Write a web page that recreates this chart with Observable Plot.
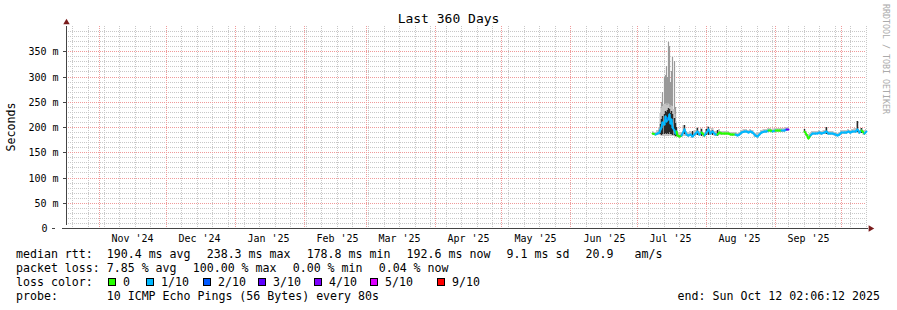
<!DOCTYPE html>
<html>
<head>
<meta charset="utf-8">
<script src="https://cdn.jsdelivr.net/npm/d3@7"></script>
<script src="https://cdn.jsdelivr.net/npm/@observablehq/plot@0.6"></script>
<style>
  body { margin: 0; background: #fff; }
  #wrap { position: relative; width: 897px; height: 310px; font-family: "DejaVu Sans Mono", monospace; color: #000; overflow: hidden; }
  #chart { position: absolute; left: 0; top: 0; }
  .t { position: absolute; white-space: pre; font-size: 11.6px; line-height: 14px; }
  .gap { display: inline-block; width: 16.2px; }
  .box { position: absolute; width: 6px; height: 6px; border: 1px solid #000; }
</style>
</head>
<body>
<div id="wrap">
  <div id="chart"></div>
  <div class="t" style="left:0;top:11px;width:897px;text-align:center;font-size:13px;line-height:16px">Last 360 Days</div>
  <div class="t" style="left:11px;top:127px;transform:translate(-50%,-50%) rotate(-90deg);">Seconds</div>
  <div class="t" style="left:886px;top:59px;transform:translate(-50%,-50%) rotate(90deg);font-size:8.3px;line-height:10px;color:#aaa">RRDTOOL / TOBI OETIKER</div>
  <div id="legend"></div>
</div>
<script>
// ---- time range ----
const rangeStart = "2024-10-17T02:06:12Z";
const rangeEnd   = "2025-10-12T02:06:12Z";

// ---- axis labels ----
const yLabelTicks = [50, 100, 150, 200, 250, 300, 350];
const monthLabels = ["Nov '24","Dec '24","Jan '25","Feb '25","Mar '25","Apr '25","May '25","Jun '25","Jul '25","Aug '25","Sep '25"];

// ---- loss colours ----
const lossLevels = [0, 1, 2, 3, 4, 5, 9];
const lossLabels = ["0", "1/10", "2/10", "3/10", "4/10", "5/10", "9/10"];
const lossColors = ["#26ff00", "#00b8ff", "#0059ff", "#5e00ff", "#7e00ff", "#dd00ff", "#ff0000"];

// ---- series ----
const dates = [
  "2025-07-08","2025-07-09","2025-07-10","2025-07-11","2025-07-11T12:00Z","2025-07-12","2025-07-12T12:00Z",
  "2025-07-13","2025-07-13T12:00Z","2025-07-14","2025-07-14T12:00Z","2025-07-15","2025-07-15T12:00Z",
  "2025-07-16","2025-07-16T12:00Z","2025-07-17","2025-07-17T12:00Z","2025-07-18","2025-07-18T12:00Z","2025-07-19",
  "2025-07-20","2025-07-21","2025-07-22","2025-07-23","2025-07-24","2025-07-25","2025-07-26","2025-07-27",
  "2025-07-28","2025-07-29","2025-07-30","2025-07-31",
  "2025-08-01","2025-08-02","2025-08-03","2025-08-04","2025-08-05","2025-08-06","2025-08-07","2025-08-08",
  "2025-08-09","2025-08-10","2025-08-11","2025-08-12","2025-08-13","2025-08-14","2025-08-15","2025-08-16",
  "2025-08-17","2025-08-18","2025-08-19","2025-08-20","2025-08-21","2025-08-22","2025-08-23","2025-08-24",
  "2025-08-25","2025-08-26","2025-08-27","2025-08-28","2025-08-29","2025-08-30","2025-08-31",
  "2025-09-01","2025-09-02","2025-09-03","2025-09-04","2025-09-05","2025-09-06","2025-09-07",
  "2025-09-10",
  "2025-09-14","2025-09-15","2025-09-16","2025-09-17","2025-09-18","2025-09-19","2025-09-20","2025-09-21",
  "2025-09-22","2025-09-23","2025-09-24","2025-09-25","2025-09-26","2025-09-27","2025-09-28","2025-09-29","2025-09-30",
  "2025-10-01","2025-10-02","2025-10-03","2025-10-04","2025-10-05","2025-10-06","2025-10-07","2025-10-08",
  "2025-10-09","2025-10-10","2025-10-11","2025-10-12"
];
const median = [
  188,187,189,190,196,200,210,205,222,212,218,215,225,208,215,200,195,188,192,184,
  183,184,196,186,184,186,183,188,192,186,190,184,
  190,196,188,192,186,187,190,188,188,188,188,187,186,186,185,186,190,193,192,191,192,190,184,183,186,190,192,193,194,194,193,
  194,195,194,195,194,196,196,
  null,
  193,186,179,184,188,188,189,190,189,190,193,189,188,188,187,185,186,
  191,190,191,192,191,192,193,196,190,194,189,193
];
const loss = [
  0,0,1,1,1,1,1,1,1,1,1,2,1,1,1,1,1,1,1,0,
  0,0,1,1,1,1,1,1,1,1,1,0,
  1,1,1,1,1,1,0,0,0,0,0,0,0,0,1,1,1,1,1,1,1,1,1,1,1,1,1,1,1,0,0,
  1,0,0,0,1,1,3,
  null,
  9,0,0,0,1,1,1,1,1,1,1,1,1,1,1,1,1,
  1,1,1,1,1,1,1,1,1,1,0,1
];
// light smoke band (lowest / highest ping, typical spread)
const smokeLo = [
  185,184,185,184,184,183,183,182,183,182,183,182,184,182,183,182,182,181,181,181,
  180,181,183,182,180,182,179,183,184,182,184,181,
  185,186,184,187,182,183,185,184,185,185,185,184,183,183,182,183,186,189,188,188,188,186,181,180,182,186,188,189,190,190,190,
  190,191,190,191,190,192,192,
  null,
  188,182,176,180,184,185,186,186,185,186,187,185,184,184,183,182,182,
  187,186,187,188,187,188,188,189,186,188,185,188
];
const smokeHi = [
  192,191,194,200,228,238,242,245,246,248,244,248,246,240,244,242,236,226,212,192,
  189,190,204,192,190,192,190,194,200,193,198,190,
  197,202,194,198,192,193,196,193,192,192,192,191,190,190,189,191,194,197,196,195,196,194,189,188,190,194,196,197,198,198,197,
  198,199,198,199,198,200,200,
  null,
  197,192,186,189,192,192,193,194,193,194,200,193,192,192,191,189,190,
  195,194,195,196,195,196,198,212,195,199,194,197
];
// tallest pings (thin grey spikes)
const smokePeak = [
  null,null,null,null,null,250,270,300,302,320,300,368,360,290,310,339,330,240,null,null,
  null,null,null,null,null,null,null,null,null,null,null,null,
  null,null,null,null,null,null,null,null,null,null,null,null,null,null,null,null,null,null,null,null,null,null,null,null,null,null,null,null,null,null,null,
  null,null,null,null,null,null,null,
  null,
  null,null,null,null,null,null,null,null,null,null,null,null,null,null,null,null,null,
  null,null,null,null,null,null,null,null,null,null,null,null
];
// dense (dark) smoke around the median
const darkLo = [
  null,null,null,186,186,185,186,186,188,186,188,187,190,186,187,185,184,183,183,null,
  null,null,186,null,null,null,180,null,184,null,182,null,
  184,185,null,184,null,183,null,null,null,null,null,null,null,null,null,null,null,null,null,null,null,null,null,null,null,null,null,null,null,null,null,
  null,null,null,null,null,null,null,
  null,
  188,null,null,null,null,null,null,null,null,null,187,null,null,null,null,null,null,
  null,null,null,null,null,null,null,190,null,189,null,null
];
const darkHi = [
  null,null,null,195,205,215,222,226,232,230,234,238,236,228,232,226,218,208,200,null,
  null,null,203,null,null,null,192,null,198,null,196,null,
  196,200,null,195,null,194,null,null,null,null,null,null,null,null,null,null,null,null,null,null,null,null,null,null,null,null,null,null,null,null,null,
  null,null,null,null,null,null,null,
  null,
  196,null,null,null,null,null,null,null,null,null,200,null,null,null,null,null,null,
  null,null,null,null,null,null,null,211,null,198,null,null
];

// ---- build tables ----
const start = new Date(rangeStart), end = new Date(rangeEnd);
const colorOf = l => lossColors[lossLevels.indexOf(l)];
const table = dates.map((d, i) => ({
  date: new Date(d), median: median[i], loss: loss[i],
  lo: smokeLo[i], hi: smokeHi[i], peak: smokePeak[i], dlo: darkLo[i], dhi: darkHi[i]
}));
const segs = d3.pairs(table)
  .filter(([a, b]) => a.median != null && b.median != null)
  .map(([a, b]) => ({x1: a.date, y1: a.median, x2: b.date, y2: b.median, color: colorOf(b.loss)}));
const darkRows = table.filter(d => d.dlo != null);
const peakRows = table.filter(d => d.peak != null);

const weeks = d3.utcSunday.range(start, end);
const months = d3.utcMonth.range(start, end);
const labelDates = months.map(m => d3.utcDay.offset(m, 15)).filter(d => d < end);
const minorY = d3.range(10, 400, 10).filter(v => v % 50 !== 0);

const chart = Plot.plot({
  width: 897, height: 310,
  marginLeft: 66, marginRight: 31, marginTop: 26, marginBottom: 82,
  x: {type: "utc", domain: [start, end], round: true},
  y: {domain: [0, 400], round: true},
  color: {type: "identity"},
  style: {fontFamily: "DejaVu Sans Mono", fontSize: "10px", background: "transparent", color: "#000", overflow: "visible"},
  marks: [
    Plot.ruleY(minorY, {stroke: "#c8c8c8", strokeDasharray: "1,1"}),
    Plot.ruleX(weeks, {stroke: "#c8c8c8", strokeDasharray: "1,1"}),
    Plot.ruleY(yLabelTicks, {stroke: "#f09a9a", strokeDasharray: "1,1"}),
    Plot.ruleX(months, {stroke: "#f09a9a", strokeDasharray: "1,1"}),
    Plot.ruleX(peakRows, {x: "date", y1: "lo", y2: "peak", stroke: "#9a9a9a", strokeWidth: 1.2}),
    Plot.areaY(table, {x: "date", y1: "lo", y2: "hi", curve: "step", fill: "#c4c4c4"}),
    Plot.ruleX(darkRows, {x: "date", y1: "dlo", y2: "dhi", stroke: "#2a2a2a", strokeWidth: 1.4}),
    Plot.link(segs, {x1: "x1", y1: "y1", x2: "x2", y2: "y2", stroke: "color", strokeWidth: 2, strokeLinecap: "round"}),
    Plot.axisY({ticks: yLabelTicks, tickFormat: d => d + " m", tickSize: 3, tickPadding: 5, label: null, stroke: "#444"}),
    Plot.axisY({ticks: [0], tickFormat: () => "0", tickSize: 3, tickPadding: 5, dx: -11, label: null, stroke: "#444"}),
    Plot.axisX({ticks: labelDates, tickFormat: (d, i) => monthLabels[i], tickSize: 0, tickPadding: 6, label: null}),
    Plot.ruleY([0], {stroke: "#444", insetLeft: -4, insetRight: -2}),
    Plot.ruleX([start], {y1: 0, y2: 400, stroke: "#444", insetTop: -3}),
    Plot.dot([end], {x: d => d, y: () => 0, symbol: "triangle", r: 2.4, rotate: 90, dx: 4, fill: "#7a1c1c", stroke: null}),
    Plot.dot([start], {x: d => d, y: () => 400, symbol: "triangle", r: 2.4, dy: -4, fill: "#7a1c1c", stroke: null})
  ]
});
document.getElementById("chart").appendChild(chart);

// ---- legend ----
const legend = document.getElementById("legend");
function addText(txt, left, top, extra) {
  const el = document.createElement("div");
  el.className = "t";
  el.textContent = txt;
  el.style.left = left + "px";
  el.style.top = top + "px";
  if (extra) Object.assign(el.style, extra);
  legend.appendChild(el);
  return el;
}
function addItems(prefix, items, left, top) {
  const el = addText("", left, top);
  const p = document.createElement("span");
  p.textContent = prefix;
  el.appendChild(p);
  items.forEach((s, i) => {
    if (i > 0) { const g = document.createElement("span"); g.className = "gap"; el.appendChild(g); }
    const sp = document.createElement("span");
    sp.textContent = s;
    el.appendChild(sp);
  });
}
const statsRtt = ["190.4 ms avg", "238.3 ms max", "178.8 ms min", "192.6 ms now", "9.1 ms sd", "20.9   am/s"];
const statsLoss = ["7.85 % avg", "100.00 % max", "0.00 % min", "0.04 % now"];
addItems("median rtt:  ", statsRtt, 16, 247);
addItems("packet loss: ", statsLoss, 16, 261);
addText("loss color:", 16, 275);
const boxX = [108, 146, 203, 258, 314, 370, 437];
lossLabels.forEach((lab, i) => {
  const b = document.createElement("div");
  b.className = "box";
  b.style.left = boxX[i] + "px";
  b.style.top = "278px";
  b.style.background = lossColors[i];
  legend.appendChild(b);
  addText(lab, boxX[i] + 15, 275);
});
addText("probe:       10 ICMP Echo Pings (56 Bytes) every 80s", 16, 289);
addText("end: Sun Oct 12 02:06:12 2025", 0, 289, {left: "auto", right: "17px"});
</script>
</body>
</html>
